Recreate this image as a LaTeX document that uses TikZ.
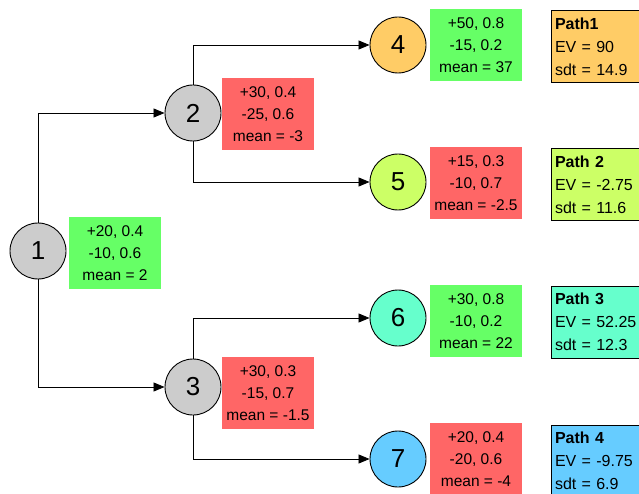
\documentclass[tikz,border=0pt]{standalone}
\usepackage{fontspec}
\setmainfont{Liberation Sans}
\usetikzlibrary{arrows.meta}
\definecolor{grey}{RGB}{204,204,204}
\definecolor{cOrange}{RGB}{255,204,102}
\definecolor{cLime}{RGB}{204,255,102}
\definecolor{cMint}{RGB}{102,255,204}
\definecolor{cSky}{RGB}{102,204,255}
\definecolor{cGreen}{RGB}{102,255,102}
\definecolor{cRed}{RGB}{255,102,102}
\tikzset{
  chance/.style={circle, draw=black, line width=0.9pt, minimum size=56pt, inner sep=0pt, font=\fontsize{26}{26}\selectfont},
  infobox/.style={rectangle, minimum width=92pt, minimum height=72pt, inner sep=2pt, align=center, font=\fontsize{15.5}{22}\selectfont},
  pathbox/.style={rectangle, draw=black, line width=1pt, minimum width=92pt, minimum height=72pt, inner xsep=4pt, text width=84pt, align=left, font=\fontsize{16}{23}\selectfont},
  conn/.style={line width=0.8pt, -{Triangle[length=11pt,width=9pt]}}
}
\begin{document}
\begin{tikzpicture}[x=1pt,y=-1pt]
\clip (0,0) rectangle (639,494);
\fill[white] (0,0) rectangle (639,494);
% chance nodes
\node[chance, fill=grey] (n1) at (38,251) {1};
\node[chance, fill=grey] (n2) at (193,113) {2};
\node[chance, fill=grey] (n3) at (193,387) {3};
\node[chance, fill=cOrange] (n4) at (398,45) {4};
\node[chance, fill=cLime] (n5) at (398,182) {5};
\node[chance, fill=cMint] (n6) at (398,318) {6};
\node[chance, fill=cSky] (n7) at (398,459) {7};
% info boxes
\node[infobox, fill=cGreen] (b1) at (115,253) {+20, 0.4\\ -10, 0.6\\mean = 2};
\node[infobox, fill=cRed] (b2) at (268,114) {+30, 0.4\\ -25, 0.6\\mean = -3};
\node[infobox, fill=cRed] (b3) at (268,393) {+30, 0.3\\ -15, 0.7\\mean = -1.5};
\node[infobox, fill=cGreen] (b4) at (476,45) {+50, 0.8\\ -15, 0.2\\mean = 37};
\node[infobox, fill=cRed] (b5) at (476,183) {+15, 0.3\\ -10, 0.7\\mean = -2.5};
\node[infobox, fill=cGreen] (b6) at (476,321) {+30, 0.8\\ -10, 0.2\\mean = 22};
\node[infobox, fill=cRed] (b7) at (476,459) {+20, 0.4\\ -20, 0.6\\mean = -4};
% path boxes
\node[pathbox, fill=cOrange] (p1) at (597,47) {\textbf{Path1}\\EV = 90\\sdt = 14.9};
\node[pathbox, fill=cLime] (p2) at (597,185) {\textbf{Path 2}\\EV = -2.75\\sdt = 11.6};
\node[pathbox, fill=cMint] (p3) at (597,322) {\textbf{Path 3}\\EV = 52.25\\sdt = 12.3};
\node[pathbox, fill=cSky] (p4) at (597,461) {\textbf{Path 4}\\EV = -9.75\\sdt = 6.9};
% connectors
\draw[conn] (n1.north) |- (n2.west);
\draw[conn] (n1.south) |- (n3.west);
\draw[conn] (n2.north) |- (n4.west);
\draw[conn] (n2.south) |- (n5.west);
\draw[conn] (n3.north) |- (n6.west);
\draw[conn] (n3.south) |- (n7.west);
\end{tikzpicture}
\end{document}
